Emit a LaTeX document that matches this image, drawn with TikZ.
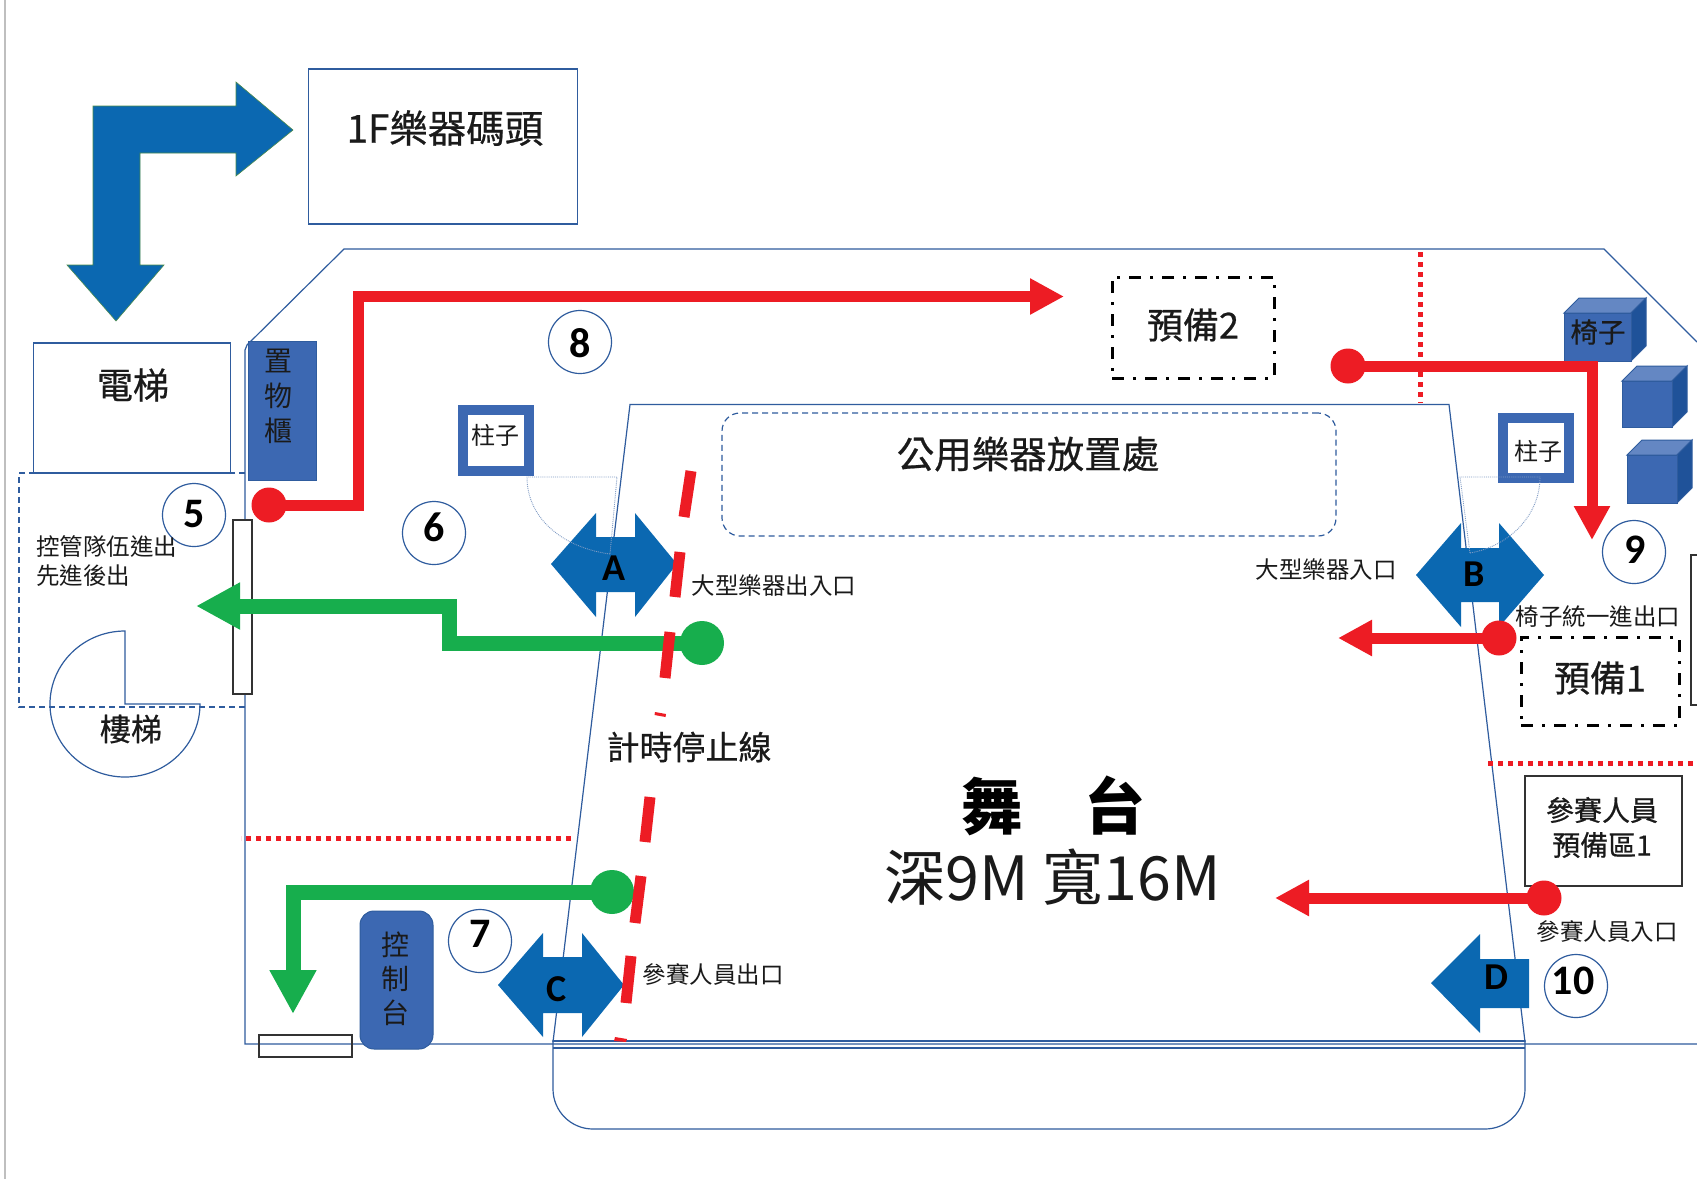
\documentclass[tikz,border=0pt]{standalone}
\usepackage{fontspec}
\setmainfont{Noto Sans CJK TC}
\newfontfamily\medcjk{Noto Sans CJK TC}[FakeBold=0.6]
\newfontfamily\latinbd{Carlito}[BoldFont=Carlito Bold]
\usetikzlibrary{arrows.meta}
\newcommand{\szf}[1]{\fontsize{#1pt}{#1pt}\selectfont}
\definecolor{wallblue}{HTML}{2F5C9E}
\definecolor{arrowblue}{HTML}{0B68B1}
\definecolor{boxblue}{HTML}{3C68B2}
\definecolor{topblue}{HTML}{6487C3}
\definecolor{sideblue}{HTML}{1F5299}
\definecolor{flowred}{HTML}{ED1C24}
\definecolor{flowgreen}{HTML}{17AE4D}
\definecolor{inktext}{HTML}{1A1A1A}
\tikzset{
  wall/.style={draw=wallblue,line width=1.2pt},
  thinbox/.style={draw=wallblue,line width=1.2pt,fill=white},
  blackbox/.style={draw=black!80,line width=1.3pt},
  dashwall/.style={draw=wallblue,line width=1.2pt,dash pattern=on 6pt off 4pt},
  dashdotbox/.style={draw=black,line width=3pt,dash pattern=on 12pt off 9pt on 3pt off 9pt},
  reddots/.style={draw=flowred,line width=5pt,dash pattern=on 5pt off 5pt},
  doorswing/.style={draw=wallblue!60,line width=0.9pt,densely dotted},
  redflow/.style={draw=flowred,line width=11pt,-{Triangle[length=34pt,width=34pt]}},
  greenflow/.style={draw=flowgreen,line width=15pt,miter limit=10,-{Triangle[length=44pt,width=44pt]}},
  reddot/.style={circle,fill=flowred,inner sep=0pt,minimum size=35pt},
  greendot/.style={circle,fill=flowgreen,inner sep=0pt,minimum size=44pt},
  numcircle/.style={circle,thinbox,inner sep=0pt,minimum size=63pt},
  numtext/.style={inner sep=0pt,font=\latinbd\bfseries\szf{42},text=black},
  gatemark/.style={font=\latinbd\bfseries\szf{38},text=black,inner sep=0pt},
  gatearrow/.style={fill=arrowblue},
  label/.style={text=inktext,inner sep=0pt,font=\szf{23.5}},
  stopseg/.style={draw=flowred,line width=11pt},
  pillar/.style={draw=boxblue,line width=10pt,fill=white,inner sep=0pt},
  pillartext/.style={inner sep=0pt,font=\szf{24},text=inktext},
  cubefront/.style={fill=boxblue,draw=wallblue,line width=1pt},
  cubetop/.style={fill=topblue,draw=wallblue,line width=1pt},
  cubeside/.style={fill=sideblue,draw=wallblue,line width=1pt},
  vertchar/.style={inner sep=0pt,text=inktext,font=\szf{28}},
}
\begin{document}
\begin{tikzpicture}[x=1pt,y=-1pt]
\useasboundingbox (0,0) rectangle (1697,1179);
\fill[white] (0,0) rectangle (1697,1179);

% page edge
\draw[black!25,line width=1.5pt] (5,0) -- (5,1179);

% big corner arrow
\fill[arrowblue,draw=green!35!black!70,line width=0.6pt] (293,130) -- (236,82) -- (236,106) -- (93,106) -- (93,265) -- (67,265) -- (116,321) -- (164,265) -- (140,265) -- (140,153) -- (236,153) -- (236,176) -- cycle;
\node[thinbox,minimum width=269pt,minimum height=155pt,inner sep=0pt] (dock) at (443,146.5) {};
\node[inner sep=0pt,text=inktext,font=\medcjk\szf{38.5}] (docktext) at (445,128) {1F樂器碼頭};

% room and stage
\draw[wall] (1697,342) -- (1604,249) -- (344,249) -- (247,345) -- (245,350) -- (245,1044) -- (1697,1044);
\draw[wall] (553,1042) -- (630,404.5) -- (1449,404.5) -- (1525,1042);
\draw[wall] (553,1040) -- (553,1089) arc[start angle=180,end angle=90,radius=40] -- (1485,1129) arc[start angle=90,end angle=0,radius=40] -- (1525,1040);
\draw[wall] (553,1041) -- (1525,1041);
\draw[wall] (553,1048) -- (1525,1048);

% red dotted partition lines
\draw[reddots] (1420,252) -- (1420,403);
\draw[reddots] (1488,763) -- (1697,763);
\draw[reddots] (571,838.5) -- (241,838.5);

% elevator, waiting zone, stairs
\node[thinbox,minimum width=197pt,minimum height=130pt,inner sep=0pt] (elev) at (132,408) {};
\node[inner sep=0pt,text=inktext,font=\medcjk\szf{36}] (elevtext) at (133,385) {電梯};
\draw[dashwall] (245,473) -- (19,473) -- (19,707) -- (245,707);
\draw[thinbox] (125,631) arc[start angle=270,end angle=0,x radius=75,y radius=73] -- (125,704) -- cycle;
\draw[dashwall] (19,707) -- (245,707);
\node[inner sep=0pt,text=inktext,font=\medcjk\szf{31}] (stairtext) at (131,729) {樓梯};

% locker
\node[draw=wallblue,fill=boxblue,line width=1pt,minimum width=68pt,minimum height=139pt,inner sep=0pt] (locker) at (282,410.5) {};
\node[vertchar] (lk1) at (278.5,361) {置};
\node[vertchar] (lk2) at (278.5,396) {物};
\node[vertchar] (lk3) at (278.5,431) {櫃};

% doors on the wall
\node[blackbox,fill=white,minimum width=19pt,minimum height=174pt,inner sep=0pt] (doorL) at (242.5,607) {};
\node[blackbox,minimum width=93pt,minimum height=22pt,inner sep=0pt] (doorB) at (305.5,1046) {};

% control desk
\node[draw=wallblue,fill=boxblue,line width=1pt,rounded corners=14pt,minimum width=73pt,minimum height=138pt,inner sep=0pt] (desk) at (396.5,980) {};
\node[vertchar] (dk1) at (395,945) {控};
\node[vertchar] (dk2) at (395,979) {制};
\node[vertchar] (dk3) at (395,1013) {台};

% pillars
\node[pillar,minimum width=66pt,minimum height=61pt] (pilL) at (495.5,440) {};
\node[pillartext] (pilLtext) at (495,435) {柱子};
\node[pillar,minimum width=66pt,minimum height=60pt] (pilR) at (1535.5,447.5) {};
\node[pillartext] (pilRtext) at (1538,451) {柱子};

% public instruments, reserve boxes
\node[draw=wallblue,line width=1.2pt,dash pattern=on 6pt off 4pt,rounded corners=18pt,minimum width=614pt,minimum height=123pt,inner sep=0pt] (pub) at (1029,474.5) {};
\node[inner sep=0pt,text=inktext,font=\medcjk\szf{37.5}] (pubtext) at (1028,454) {公用樂器放置處};
\node[dashdotbox,minimum width=162pt,minimum height=101pt,inner sep=0pt] (res2) at (1193,327.5) {};
\node[inner sep=0pt,text=inktext,font=\medcjk\szf{36}] (res2text) at (1193,325) {預備2};
\node[dashdotbox,minimum width=158pt,minimum height=88pt,inner sep=0pt] (res1) at (1600,681) {};
\node[inner sep=0pt,text=inktext,font=\medcjk\szf{36}] (res1text) at (1600,678) {預備1};
\draw[blackbox] (1697,555) -- (1691,555) -- (1691,705) -- (1697,705);
\node[blackbox,minimum width=157pt,minimum height=110pt,inner sep=0pt] (prep1) at (1603.5,831) {};
\node[inner sep=0pt,text=inktext,font=\medcjk\szf{28}] (prep1a) at (1602,810) {參賽人員};
\node[inner sep=0pt,text=inktext,font=\medcjk\szf{28}] (prep1b) at (1602,845) {預備區1};

% chair cubes
\draw[cubetop] (1564,313) -- (1579,298) -- (1646,298) -- (1631,313) -- cycle;
\draw[cubeside] (1631,313) -- (1646,298) -- (1646,346) -- (1631,361) -- cycle;
\node[cubefront,minimum width=67pt,minimum height=48pt,inner sep=0pt] (ch1) at (1597.5,337) {};
\node[inner sep=0pt,text=inktext,font=\medcjk\szf{27.5}] (ch1text) at (1598,332) {椅子};
\draw[cubetop] (1622,381) -- (1637,366) -- (1687,366) -- (1672,381) -- cycle;
\draw[cubeside] (1672,381) -- (1687,366) -- (1687,412) -- (1672,427) -- cycle;
\node[cubefront,minimum width=50pt,minimum height=46pt,inner sep=0pt] (ch2) at (1647,404) {};
\draw[cubetop] (1627,455) -- (1642,440) -- (1692,440) -- (1677,455) -- cycle;
\draw[cubeside] (1677,455) -- (1692,440) -- (1692,488) -- (1677,503) -- cycle;
\node[cubefront,minimum width=50pt,minimum height=48pt,inner sep=0pt] (ch3) at (1652,479) {};

% numbered circles
\node[numcircle] (n5) at (194,515) {};
\node[numtext] (n5t) at (194,514) {5};
\node[numcircle] (n6) at (434,533) {};
\node[numtext] (n6t) at (434,527) {6};
\node[numcircle] (n7) at (480,941) {};
\node[numtext] (n7t) at (480,934) {7};
\node[numcircle] (n8) at (580,342) {};
\node[numtext] (n8t) at (580,343) {8};
\node[numcircle] (n9) at (1634,552) {};
\node[numtext] (n9t) at (1635,550) {9};
\node[numcircle] (n10) at (1576,986) {};
\node[numtext] (n10t) at (1573,981) {10};

% blue gate arrows
\fill[gatearrow] (551,564) -- (596,513) -- (596,537) -- (635,537) -- (635,513) -- (677,564) -- (635,617) -- (635,592) -- (596,592) -- (596,617) -- cycle;
\node[gatemark] (gA) at (614,568) {A};
\fill[gatearrow] (1416,575) -- (1461,523) -- (1461,548) -- (1499,548) -- (1499,523) -- (1544,575) -- (1499,627) -- (1499,602) -- (1461,602) -- (1461,627) -- cycle;
\node[gatemark] (gB) at (1474,574) {B};
\fill[gatearrow] (498,985) -- (543,933) -- (543,957) -- (582,957) -- (582,933) -- (624,985) -- (582,1037) -- (582,1013) -- (543,1013) -- (543,1037) -- cycle;
\node[gatemark] (gC) at (557,989) {C};
\fill[gatearrow] (1431,983) -- (1480,934) -- (1480,959) -- (1529,959) -- (1529,1008) -- (1480,1008) -- (1480,1033) -- cycle;
\node[gatemark] (gD) at (1496,977) {D};

% door swings
\draw[doorswing] (610,554) .. controls (565,548) and (527,520) .. (527,477) -- (617,477) -- (610,554);
\draw[doorswing] (1470,553) .. controls (1510,546) and (1540,515) .. (1540,477) -- (1460,477) -- (1470,553);

% flow connectors
\node[reddot] (d8) at (269,505) {};
\coordinate (e8) at (1064,296.5);
\draw[redflow] (d8.center) -- (358,505) -- (358,296.5) -- (e8);
\node[reddot] (d9) at (1348,366) {};
\coordinate (e9) at (1592,540);
\draw[redflow] (d9.center) -- (1592,366) -- (e9);
\node[reddot] (dB) at (1499,638) {};
\coordinate (eB) at (1338,638);
\draw[redflow] (dB.center) -- (eB);
\node[reddot] (d10) at (1544,898) {};
\coordinate (e10) at (1275,898);
\draw[redflow] (d10.center) -- (e10);
\node[greendot] (dA) at (702,643) {};
\coordinate (eA) at (196,606);
\draw[greenflow] (dA.center) -- (449,643) -- (449,606) -- (eA);
\node[greendot] (dC) at (612,892) {};
\coordinate (eC) at (293,1014);
\draw[greenflow] (dC.center) -- (293,892) -- (eC);

% timing stop line
\draw[stopseg] (691,471) -- (684,517);
\draw[stopseg] (680,552) -- (675,597);
\draw[stopseg] (670,632) -- (665,678);
\fill[flowred] (655,712) -- (666,714) -- (665.5,717) -- (654.5,715) -- cycle;
\draw[stopseg] (650,797) -- (645,842);
\draw[stopseg] (641,876) -- (635,923);
\draw[stopseg] (631,956) -- (626,1003);
\fill[flowred] (615,1037) -- (627,1039) -- (626,1042) -- (614,1041) -- cycle;

% labels
\node[label,anchor=west,align=left,font=\fontsize{23.5pt}{29pt}\selectfont] (ctrl) at (36,561) {控管隊伍進出\\先進後出};
\node[label] (lA) at (774,585) {大型樂器出入口};
\node[label] (lB) at (1326,569) {大型樂器入口};
\node[label] (lCh) at (1598,617) {椅子統一進出口};
\node[label] (lC) at (713,974) {參賽人員出口};
\node[label] (lD) at (1607,931) {參賽人員入口};
\node[inner sep=0pt,text=inktext,font=\medcjk\szf{33}] (stop) at (689,747) {計時停止線};
\node[inner sep=0pt,text=black,font=\bfseries\szf{61}] (st1) at (992,806) {舞};
\node[inner sep=0pt,text=black,font=\bfseries\szf{61}] (st2) at (1115,806) {台};
\node[inner sep=0pt,text=inktext,font=\szf{61}] (st3) at (1053,877) {深9M 寬16M};
\end{tikzpicture}
\end{document}
